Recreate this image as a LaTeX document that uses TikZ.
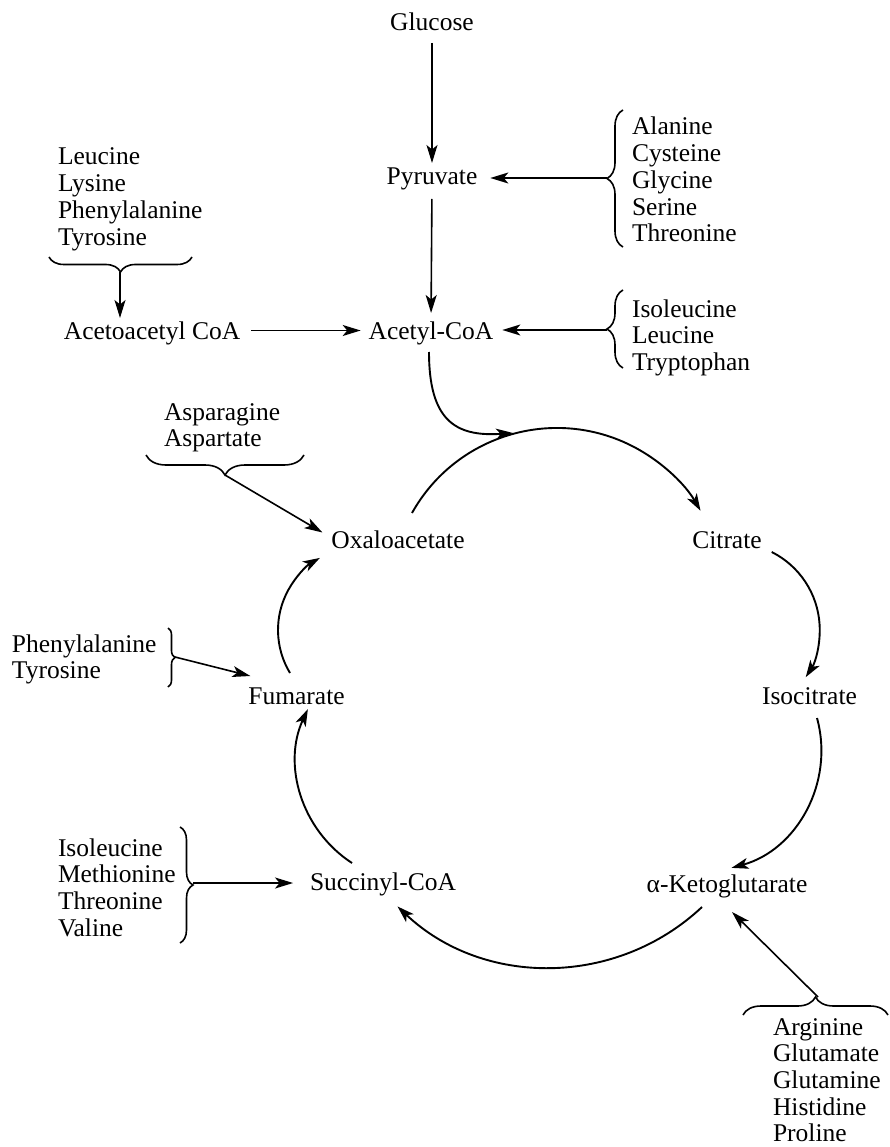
\documentclass[tikz,border=0pt]{standalone}
\usepackage{fontspec}
\setmainfont{Liberation Serif}
\usetikzlibrary{arrows.meta,decorations.pathreplacing,calc}
\begin{document}
\begin{tikzpicture}[x=1pt,y=-1pt,
  lbl/.style={font=\fontsize{25.5}{26.7}\selectfont, inner sep=0pt, outer sep=0pt, text height=17pt, text depth=0pt, anchor=base},
  grp/.style={font=\fontsize{25.5}{26.7}\selectfont, inner sep=0pt, outer sep=0pt, anchor=base west},
  arr/.style={line width=1.6pt, -{Stealth[length=18pt,width=11pt,inset=4.5pt]}},
  cyc/.style={line width=1.9pt, -{Stealth[length=17pt,width=11pt,inset=4.5pt]}},
  brc/.style={line width=1.6pt, decorate, decoration={brace, amplitude=#1}},
]
\useasboundingbox (0,0) rectangle (889,1147);

% main labels
\node[lbl] (glu) at (432,31) {Glucose};
\node[lbl] (pyr) at (432,185) {Pyruvate};
\node[lbl] (acc) at (431,339) {Acetyl-CoA};
\node[lbl] (aca) at (152,339) {Acetoacetyl CoA};
\node[lbl] (oxa) at (398,548) {Oxaloacetate};
\node[lbl] (cit) at (727,548) {Citrate};
\node[lbl] (iso) at (809.5,704) {Isocitrate};
\node[lbl] (akg) at (727,892) {α-Ketoglutarate};
\node[lbl] (suc) at (383,890) {Succinyl-CoA};
\node[lbl] (fum) at (296.5,704) {Fumarate};

% amino acid groups
\node[grp] (gL) at (58,165) {\begin{tabular}[t]{@{}l@{}}Leucine\\Lysine\\Phenylalanine\\Tyrosine\end{tabular}};
\node[grp] (gR1) at (632,135) {\begin{tabular}[t]{@{}l@{}}Alanine\\Cysteine\\Glycine\\Serine\\Threonine\end{tabular}};
\node[grp] (gR2) at (632,317) {\begin{tabular}[t]{@{}l@{}}Isoleucine\\Leucine\\Tryptophan\end{tabular}};
\node[grp] (gA) at (164,420) {\begin{tabular}[t]{@{}l@{}}Asparagine\\Aspartate\end{tabular}};
\node[grp] (gP) at (12,652) {\begin{tabular}[t]{@{}l@{}}Phenylalanine\\Tyrosine\end{tabular}};
\node[grp] (gI) at (58,856) {\begin{tabular}[t]{@{}l@{}}Isoleucine\\Methionine\\Threonine\\Valine\end{tabular}};
\node[grp] (gG) at (773,1035) {\begin{tabular}[t]{@{}l@{}}Arginine\\Glutamate\\Glutamine\\Histidine\\Proline\end{tabular}};

% braces
\draw[brc=15] (192,257) -- (49,257);
\draw[brc=16] (623,247) -- (623,110);
\draw[brc=16] (623,368) -- (623,290);
\draw[brc=20] (304,455) -- (146,455);
\draw[brc=7] (168,628) -- (168,687);
\draw[brc=13] (180,827) -- (180,943);
\draw[brc=18] (743,1015) -- (888,1015);

% brace tips
\coordinate (tL) at (120,272);
\coordinate (tR1) at (607,178);
\coordinate (tR2) at (607,330);
\coordinate (tA) at (225,475);
\coordinate (tP) at (175,657);
\coordinate (tI) at (193,883);
\coordinate (tG) at (818,997);
\coordinate (join) at (513,433);

% straight arrows
\draw[arr, shorten <=12pt, shorten >=5pt] (glu.south) -- (pyr.north);
\draw[arr, shorten <=14pt, shorten >=9pt] (pyr.south) -- (acc.north);
\draw[arr, shorten <=11pt, shorten >=8pt] (aca.east) -- (acc.west);
\draw[arr, shorten >=9pt] (tR2) -- (tR2 -| acc.east);
\draw[arr, shorten >=13pt] (tR1) -- (tR1 -| pyr.east);
\draw[arr, shorten >=4pt] (tL) -- (tL |- aca.north);
\draw[arr] (tA) -- ([shift={(-9,-7)}]oxa.west);
\draw[arr] (tP) -- ([shift={(2,-11)}]fum.north west);
\draw[arr, shorten >=17pt] (tI) -- (tI -| suc.west);
\draw[arr] (tG) -- ([shift={(5,20)}]akg.south);

% acetyl-CoA into the cycle
\draw[cyc] ([shift={(-2,13)}]acc.south) .. controls (429,420) and (455,437) .. (join);

% cycle arcs
\draw[cyc] ([shift={(14,-18)}]oxa.north) arc[start angle=-150.8, end angle=-30.1, radius=166];
\draw[cyc] ([shift={(10,12.5)}]cit.east) arc[start angle=-63.4, end angle=33, radius=87];
\draw[cyc] ([shift={(7.5,14)}]iso.south) arc[start angle=-15.3, end angle=74.7, radius=122];
\draw[cyc] ([shift={(-25,15)}]akg.south) arc[start angle=46.8, end angle=133.4, radius=222];
\draw[cyc] ([shift={(-31,-10)}]suc.north) arc[start angle=123, end angle=205, radius=122];
\draw[cyc] ([shift={(-6.5,-14)}]fum.north) arc[start angle=148.8, end angle=240.3, radius=83];
\end{tikzpicture}
\end{document}
